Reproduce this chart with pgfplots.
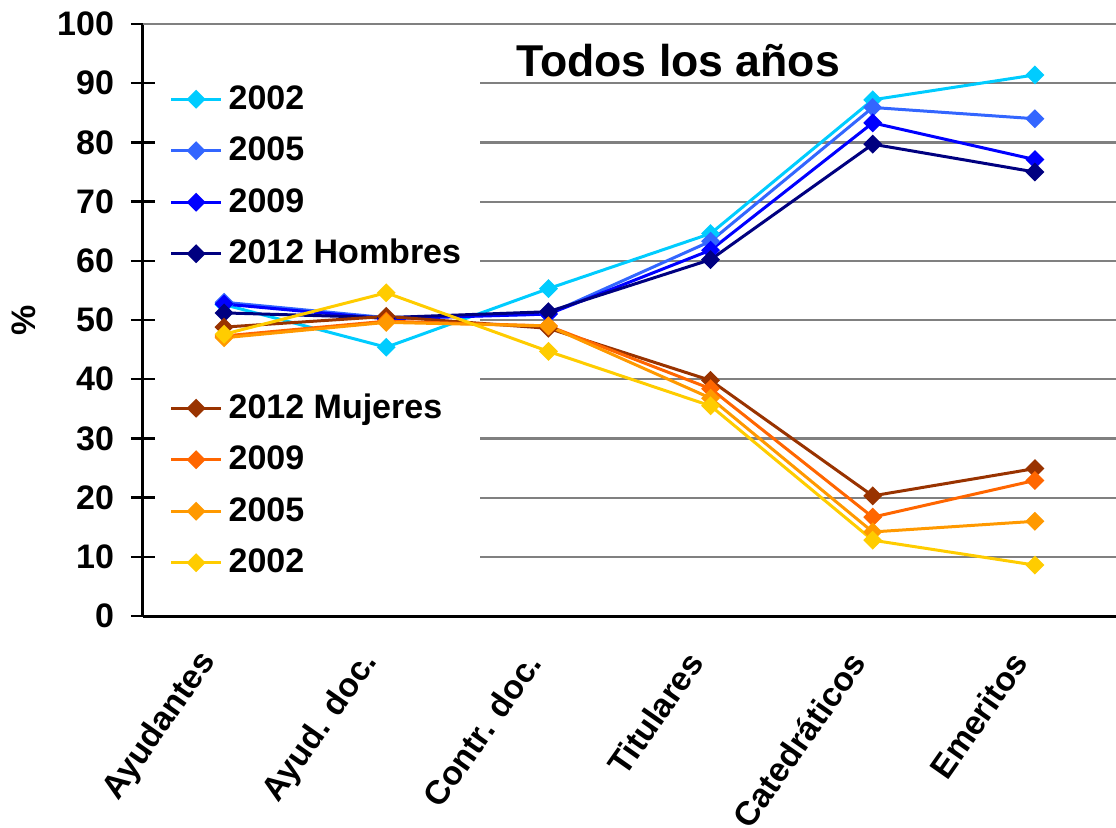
\documentclass[border=0pt]{standalone}
\usepackage{fontspec}
\setmainfont{Liberation Sans}
\usepackage{pgfplots}
\pgfplotsset{compat=1.18}
\definecolor{mA}{RGB}{0,204,255}
\definecolor{mB}{RGB}{51,102,255}
\definecolor{mC}{RGB}{0,0,255}
\definecolor{mD}{RGB}{0,0,128}
\definecolor{wD}{RGB}{153,51,0}
\definecolor{wC}{RGB}{255,102,0}
\definecolor{wB}{RGB}{255,153,0}
\definecolor{wA}{RGB}{255,204,0}
\definecolor{gridc}{RGB}{128,128,128}
\begin{document}
\begin{tikzpicture}
\useasboundingbox (-71.5pt,-105.5pt) rectangle (486.5pt,308pt);
\begin{axis}[
  at={(0,0)}, anchor=south west,
  scale only axis, width=486.5pt, height=296pt,
  xmin=-0.5, xmax=5.5, ymin=0, ymax=100,
  clip=false,
  axis x line*=bottom, axis y line*=left,
  axis line style={-, line width=1.5pt, black},
  ytick={0,10,...,100},
  xtick={0,1,2,3,4,5},
  xticklabels={Ayudantes, Ayud. doc., Contr. doc., Titulares, Catedráticos, Emeritos},
  minor xtick={-0.5,0.5,1.5,2.5,3.5,4.5,5.5},
  tick align=center,
  major tick length=12pt,
  minor tick length=5pt,
  xtick style={draw=none},
  minor x tick style={black, line width=1.5pt, yshift=-2.5pt},
  ytick style={black, line width=1.2pt},
  /pgf/number format/assume math mode=true,
  yticklabel style={font=\fontsize{17}{18}\selectfont\bfseries, xshift=-5pt},
  xticklabel style={font=\fontsize{16.8}{19}\selectfont\bfseries, rotate=55, anchor=east, yshift=-2pt, xshift=-12.5pt},
  ylabel={\%},
  ylabel style={font=\fontsize{17}{19}\selectfont\bfseries, at={(axis description cs:-0.122,0.5)}, anchor=center},
  legend style={draw=none, fill=none, at={(axis description cs:0.027,0.899)}, anchor=north west,
    inner sep=0pt, row sep=10.75pt, column sep=3pt,
    font=\fontsize{17}{19}\selectfont\bfseries,
    nodes={inner sep=0pt, text height=12.5pt, text depth=2.5pt, anchor=west}},
  legend cell align=left,
  legend image code/.code={\draw[mark repeat=2, mark phase=2, #1] plot coordinates {(0pt,0pt) (12.5pt,0pt) (25pt,0pt)};},
  every axis plot/.append style={line width=1.5pt, mark=square*, mark size=2.6pt, mark options={rotate=45, solid}},
]
% gridlines
\draw[gridc, line width=1.1pt] (axis cs:-0.5,100) -- (axis cs:5.5,100);
\pgfplotsinvokeforeach{10,20,...,90}{
  \draw[gridc, line width=1.1pt] (axis cs:1.58,#1) -- (axis cs:5.5,#1);
}
\node[font=\fontsize{22.3}{24}\selectfont\bfseries] at (axis cs:2.8,93.9) {Todos los años};

\addplot[color=mA] coordinates {(0,52.6) (1,45.4) (2,55.3) (3,64.6) (4,87.2) (5,91.4)};
\addlegendentry{2002}
\addplot[color=mB] coordinates {(0,53.0) (1,50.4) (2,51.0) (3,63.3) (4,85.9) (5,84.0)};
\addlegendentry{2005}
\addplot[color=mC] coordinates {(0,52.7) (1,50.2) (2,51.0) (3,61.8) (4,83.3) (5,77.1)};
\addlegendentry{2009}
\addplot[color=mD] coordinates {(0,51.2) (1,50.4) (2,51.4) (3,60.2) (4,79.7) (5,75.0)};
\addlegendentry{2012 Hombres}
\addlegendimage{empty legend}
\addlegendentry{}
\addlegendimage{empty legend}
\addlegendentry{}
\addplot[color=wD] coordinates {(0,48.8) (1,50.6) (2,48.6) (3,39.8) (4,20.3) (5,24.9)};
\addlegendentry{2012 Mujeres}
\addplot[color=wC] coordinates {(0,47.3) (1,49.8) (2,49.0) (3,38.4) (4,16.7) (5,22.9)};
\addlegendentry{2009}
\addplot[color=wB] coordinates {(0,47.0) (1,49.6) (2,49.0) (3,36.8) (4,14.2) (5,16.0)};
\addlegendentry{2005}
\addplot[color=wA] coordinates {(0,47.6) (1,54.6) (2,44.7) (3,35.5) (4,12.8) (5,8.6)};
\addlegendentry{2002}
\end{axis}
\end{tikzpicture}
\end{document}
